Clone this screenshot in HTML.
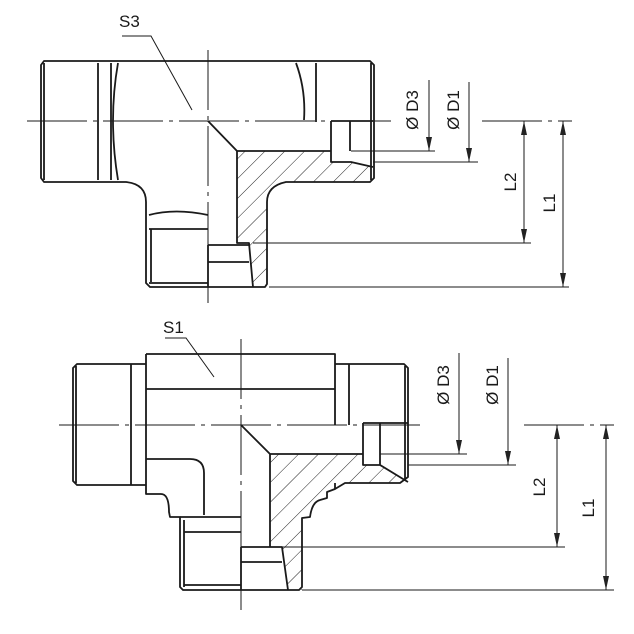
<!DOCTYPE html>
<html><head><meta charset="utf-8"><style>html,body{margin:0;padding:0;background:#fff}svg{display:block}</style></head><body>
<svg width="634" height="634" viewBox="0 0 634 634" xmlns="http://www.w3.org/2000/svg">
<defs>
<pattern id="h" patternUnits="userSpaceOnUse" width="14" height="14" patternTransform="rotate(45)">
<line x1="0" y1="0" x2="0" y2="14" stroke="#222" stroke-width="1"/></pattern>
<marker id="a" markerWidth="14" markerHeight="6" refX="14" refY="3" orient="auto-start-reverse" markerUnits="userSpaceOnUse" viewBox="0 0 14 6"><path d="M0,0 L14,3 L0,6z" fill="#222"/></marker>
</defs>
<g fill="none" stroke="#1a1a1a" stroke-width="1.8" stroke-linejoin="round">
<polygon points="237,151 331,151 331,162 351,162 373,167 373,178 369,182 286,182 267,200 267,287 253,287 249,243 237,243" fill="url(#h)" stroke="none"/>
<path d="M44,61 L370,61 L374,65 L374,178 L370,182 L286,182 Q267,186 267,202 L267,284 L265,287 L150,287 L146,283 L146,202 Q146,184 126,182 L44,182 L41,178 L41,65 Z"/>
<path d="M44,63 V180 M98,63 V180 M111,63 V180 M316,63 V122 M371,63 V180"/>
<path d="M118,63 Q108,120 118,180 M296,63 Q306,90 304,120"/>
<path d="M208,121 L237,151 L331,151 M237,151 V243 L249,243 L253,287 M331,121 V162 L351,162 L373,167 M350,121 V151 M331,121 H373"/>
<path d="M208,245 H249 M208,262 H249 M208,245 V287"/>
<path d="M149,215 Q175,208 208,215 M149,229 H208 M151,229 V282 M149,283 H208"/>
<polygon points="270,454 363,454 363,465 380,465 408,482 408,480 400,483 345,483 335,489 335,494 316,502 310,517 302,518 302,590 288,590 282,547 270,547" fill="url(#h)" stroke="none"/>
<path d="M146,354 H335 V425 M146,389 H335 M146,354 V494 H161 Q169,494 169,512 L170,517 H180 V587 L183,590 H299 L302,587 V518 L310,517 Q312,502 320,500 L327,498 V492 L335,489 L345,483 H400 L408,477 V368 L404,364 H335"/>
<path d="M146,364 H77 L73,368 V481 L77,485 H146 M131,364 V485 M349,364 V425 M335,483 V489 M76,366 V483 M405,366 V480"/>
<path d="M146,459 H190 Q204,459 204,473 V515 M180,517 H241 M184,532 H241 M184,585 H241 M184,520 V587"/>
<path d="M241,425 L270,454 L363,454 M270,454 V547 M241,547 H282 L288,590 M241,562 H282 M241,547 V590"/>
<path d="M363,423 V465 L380,465 L408,482 M380,423 V465 M363,423 H408"/>
</g>
<g fill="none" stroke="#1a1a1a" stroke-width="1">
<path d="M27,121 H396 M482,121 H572 M208,50 V303" stroke-dasharray="60,6,4,6"/>
<path d="M59,425 H420 M524,425 H614 M241,339 V610" stroke-dasharray="60,6,4,6"/>
<path d="M351,151 H435 M373,162 H478 M253,243 H531 M269,287 H569"/>
<path d="M429,80 V151" marker-end="url(#a)"/>
<path d="M469,82 V162" marker-end="url(#a)"/>
<path d="M524,121 V243" marker-start="url(#a)" marker-end="url(#a)"/>
<path d="M563,121 V287" marker-start="url(#a)" marker-end="url(#a)"/>
<path d="M122,36 H151 L192,110"/>
<path d="M380,454 H467 M408,465 H516 M282,547 H565 M302,590 H614"/>
<path d="M459,353 V454" marker-end="url(#a)"/>
<path d="M508,358 V465" marker-end="url(#a)"/>
<path d="M557,425 V547" marker-start="url(#a)" marker-end="url(#a)"/>
<path d="M606,425 V590" marker-start="url(#a)" marker-end="url(#a)"/>
<path d="M165,338 H186 L214,377"/>
</g>
<g font-family="Liberation Sans, Arial, sans-serif" font-size="17" fill="#1a1a1a">
<text x="119" y="27">S3</text>
<text x="163" y="333">S1</text>
<text transform="translate(418,110) rotate(-90)" text-anchor="middle">Ø D3</text>
<text transform="translate(459,110) rotate(-90)" text-anchor="middle">Ø D1</text>
<text transform="translate(516,182) rotate(-90)" text-anchor="middle">L2</text>
<text transform="translate(555,203) rotate(-90)" text-anchor="middle">L1</text>
<text transform="translate(449,385) rotate(-90)" text-anchor="middle">Ø D3</text>
<text transform="translate(498,385) rotate(-90)" text-anchor="middle">Ø D1</text>
<text transform="translate(545,487) rotate(-90)" text-anchor="middle">L2</text>
<text transform="translate(594,508) rotate(-90)" text-anchor="middle">L1</text>
</g>
</svg>
</body></html>
